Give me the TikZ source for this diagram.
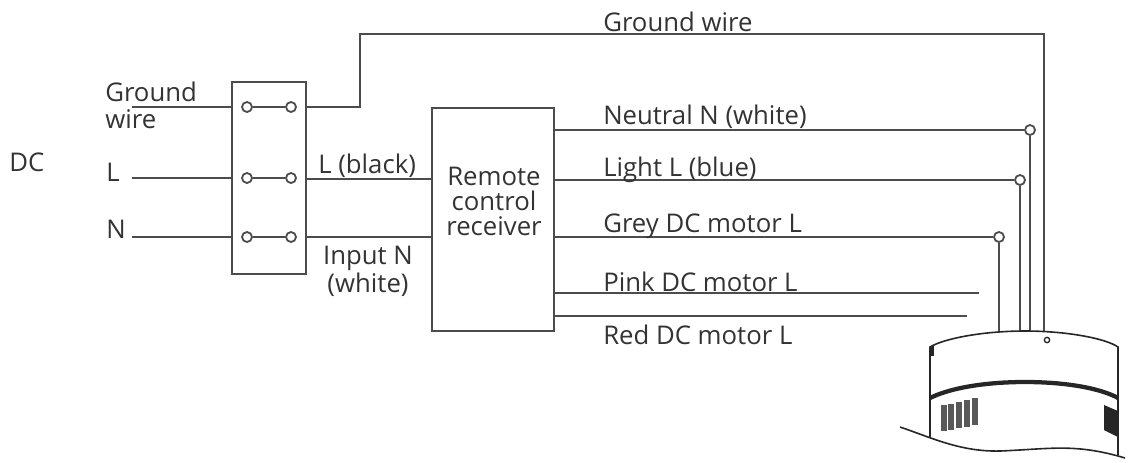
\documentclass[tikz,border=0pt]{standalone}
\usepackage{fontspec}
\setmainfont{Open Sans}
\usetikzlibrary{calc,positioning}
\definecolor{wirecol}{gray}{0.30}
\tikzset{
  wire/.style={draw=wirecol, line width=1.35pt},
  unit/.style={draw=wirecol, line width=1.35pt, inner sep=0pt},
  term/.style={circle, draw=wirecol, fill=white, line width=1.35pt, minimum size=7.5pt, inner sep=0pt},
  lab/.style={anchor=west, inner sep=0pt, text=black!80, font=\fontsize{19.3pt}{19.5pt}\selectfont},
  labc/.style={lab, anchor=center, align=center},
  motorline/.style={draw=black!85, line width=1.2pt}
}
\begin{document}
\begin{tikzpicture}[x=0.75pt,y=-0.75pt]
  \useasboundingbox (0,0) rectangle (1134,462);
  % boxes
  \node[unit, minimum width=55.5pt, minimum height=144pt] (switch) at (269,178) {};
  \node[unit, minimum width=91.5pt, minimum height=167.25pt] (recv) at (493,219.5) {};
  \node[labc, font=\fontsize{19.3pt}{18.75pt}\selectfont] (recvtxt) at (494,201) {Remote\\control\\receiver};

  % switch terminals
  \node[term] (ta) at (247,107) {};
  \node[term] (tb) at (291,107) {};
  \node[term] (tc) at (247,178) {};
  \node[term] (td) at (291,178) {};
  \node[term] (te) at (247,237) {};
  \node[term] (tf) at (291,237) {};
  \draw[wire] (ta) -- (tb);
  \draw[wire] (tc) -- (td);
  \draw[wire] (te) -- (tf);

  % free ends on the left
  \coordinate (ing) at (132,107);
  \coordinate (inl) at (132,178);
  \coordinate (inn) at (132,237);
  \draw[wire] (ing) -- (ing -| switch.west);
  \draw[wire] (inl) -- (inl -| switch.west);
  \draw[wire] (inn) -- (inn -| switch.west);

  % switch to receiver
  \draw[wire] (switch.east |- td) ++(0,1) -- (recv.west |- 0,179);
  \draw[wire] (switch.east |- tf) -- (recv.west |- tf);

  % motor top ends
  \coordinate (mg) at (1044,331);
  \coordinate (mn) at (1030,331);
  \coordinate (ml) at (1020,331);
  \coordinate (mc) at (999,331);
  \coordinate (pinkend) at (979,293);
  \coordinate (redend) at (967,316);

  % ground wire
  \draw[wire] (switch.east |- tb) -| (360,34) -| (mg);

  % receiver outputs
  \node[term] (tn) at (1030,130) {};
  \node[term] (tl) at (1020,180) {};
  \node[term] (tg) at (999,237) {};
  \draw[wire] (recv.east |- tn) -- (tn);
  \draw[wire] (recv.east |- tl) -- (tl);
  \draw[wire] (recv.east |- tg) -- (tg);
  \draw[wire] (recv.east |- pinkend) -- (pinkend);
  \draw[wire] (recv.east |- redend) -- (redend);
  \draw[wire] (tn) -- (mn);
  \draw[wire] (tl) -- (ml);
  \draw[wire] (tg) -- (mc);

  % labels
  \node[lab] (lgw) at (603,22) {Ground wire};
  \node[lab] (lgi) at (105,92) {Ground};
  \node[lab] (lgj) at (105,119) {wire};
  \node[lab] (ldc) at (9,162) {DC};
  \node[lab] (lll) at (106,172) {L};
  \node[lab] (lnn) at (106,229) {N};
  \node[lab] (lbl) at (318,166) {L (black)};
  \node[labc] (lin) at (368,258) {Input N};
  \node[labc] (lwh) at (368,285) {(white)};
  \node[lab] (lne) at (603,117) {Neutral N (white)};
  \node[lab] (lli) at (603,170) {Light L (blue)};
  \node[lab] (lgr) at (603,226) {Grey DC motor L};
  \node[lab] (lpi) at (603,282) {Pink DC motor L};
  \node[lab] (lre) at (603,335) {Red DC motor L};

  % motor
  \draw[motorline] (930,437) -- (930,347) .. controls (945,338) and (985,331) .. (1025,331)
    .. controls (1065,331) and (1105,338) .. (1118,347) -- (1118,455);
  \draw[draw=black!85, line width=3.2pt] (930,398) .. controls (950,388) and (985,382) .. (1025,382)
    .. controls (1065,382) and (1100,388) .. (1118,398);
  \draw[motorline] (900,427) .. controls (930,437) and (960,452) .. (1000,451)
    .. controls (1050,449) and (1075,443) .. (1125,458);
  \node[circle, draw=black!85, line width=1pt, minimum size=4pt, inner sep=0pt] (mdot) at (1047,340) {};
  \fill[black!85] (930,346) rectangle (934,356);
  \fill[black!85] (1104,405) -- (1118,411) -- (1118,437) -- (1104,430) -- cycle;
  \foreach \x/\t/\b in {944/405/431, 951/404/430, 959/402/428, 967/400/427, 975/398/425}
    \draw[black!65, line width=4.2pt] (\x,\t) -- (\x,\b);
\end{tikzpicture}
\end{document}
